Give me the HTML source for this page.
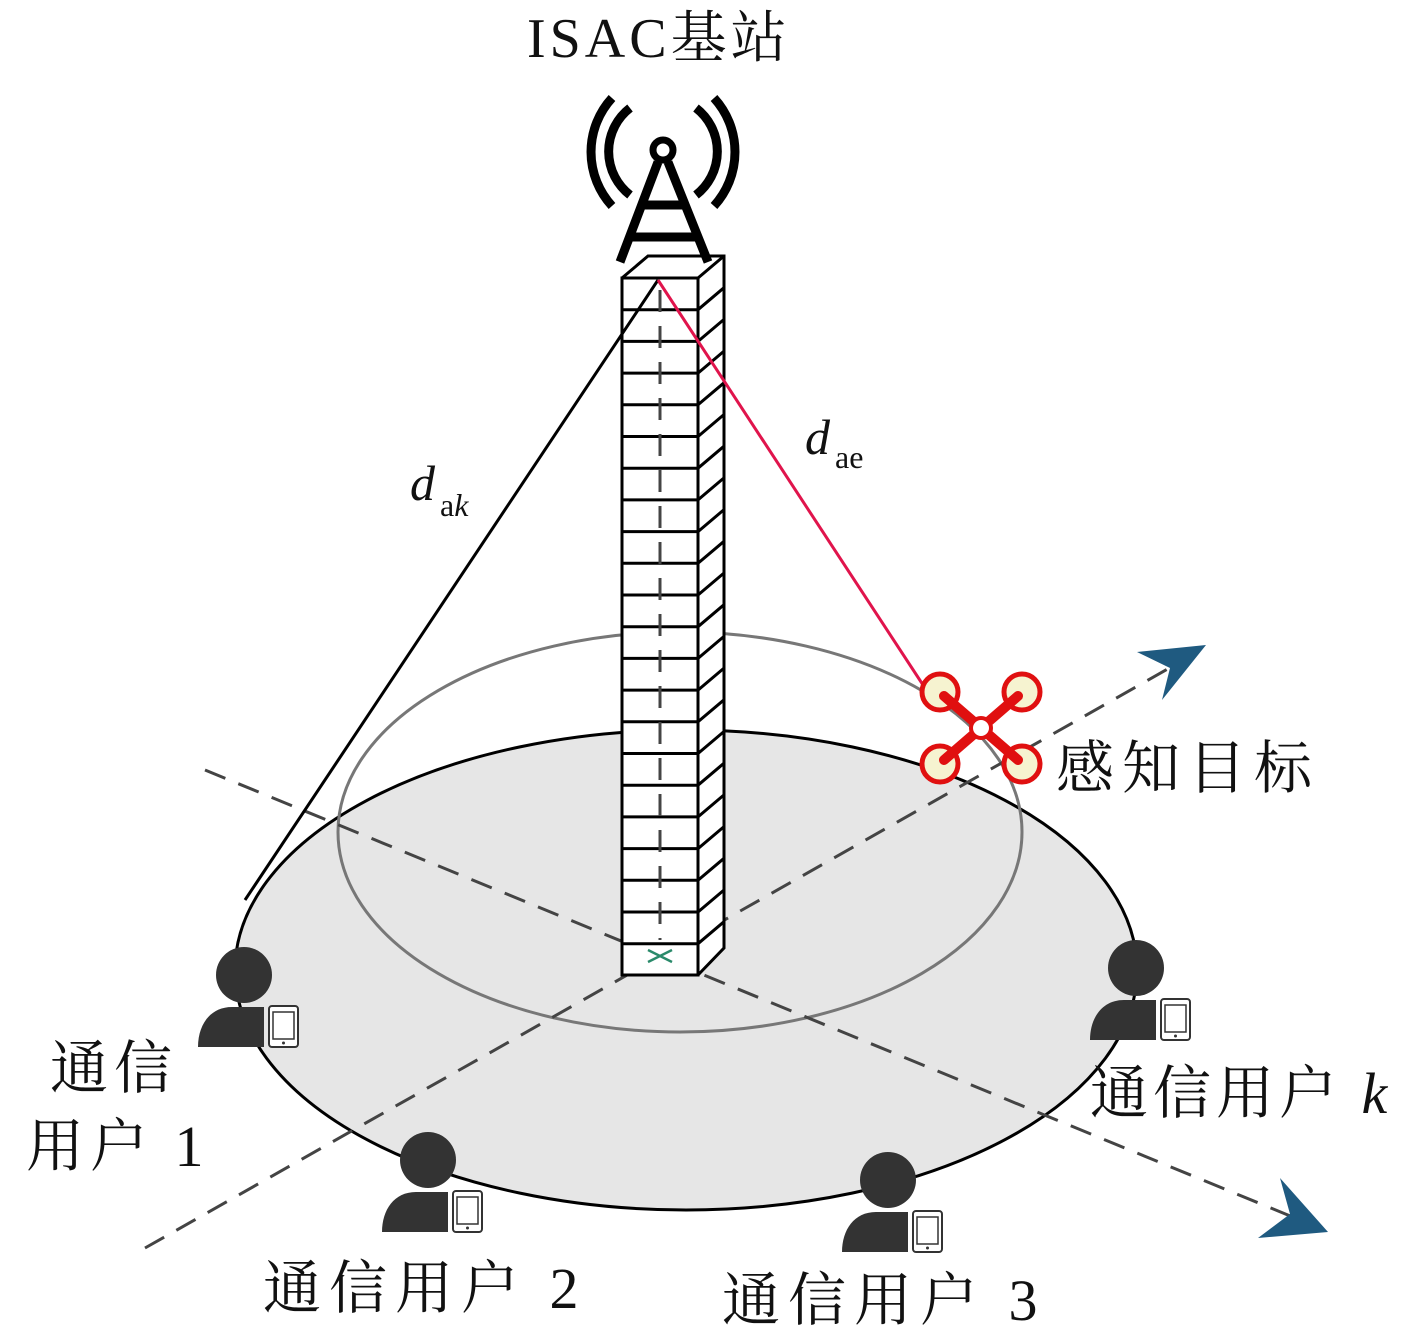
<!DOCTYPE html>
<html><head><meta charset="utf-8"><style>
html,body{margin:0;padding:0;background:#fff;width:1417px;height:1342px;overflow:hidden}
svg{display:block}
.t{font-family:"Liberation Serif","Noto Serif CJK SC","Noto Sans CJK SC",serif;fill:#111}
</style></head><body>
<svg width="1417" height="1342" viewBox="0 0 1417 1342" xmlns="http://www.w3.org/2000/svg">
<defs>
<g id="user">
<circle cx="0" cy="0" r="28" fill="#333"/>
<path d="M20 32 H-12 C-34 32 -46 50 -46 72 H20 Z" fill="#333"/>
<rect x="25" y="31" width="29" height="41" rx="3" fill="#fff" stroke="#333" stroke-width="2"/>
<rect x="29" y="37" width="21" height="27" fill="none" stroke="#333" stroke-width="1.5"/>
<circle cx="39.5" cy="68" r="1.5" fill="#333"/>
</g>
</defs>
<ellipse cx="686" cy="970" rx="451" ry="240" fill="#e6e6e6" stroke="#000" stroke-width="3"/>
<ellipse cx="680" cy="832" rx="342" ry="200" fill="none" stroke="#777" stroke-width="3"/>
<g stroke="#444" stroke-width="3" stroke-dasharray="22,14" fill="none">
<line x1="205" y1="770" x2="1300" y2="1220"/>
<line x1="145" y1="1248" x2="1180" y2="662"/>
</g>
<path d="M1328 1232 L1280 1178 L1290 1214 L1258 1238 Z" fill="#1f5a80"/>
<path d="M1206 645 L1137 652 L1170 668 L1162 700 Z" fill="#1f5a80"/>
<g stroke="#000" stroke-width="3" fill="none">
<path d="M622 278 L648 256 H724 V948 L698 975 H622 Z" fill="#fff" stroke="none"/>
<rect x="622" y="278" width="76" height="697" fill="#fff"/>
<path d="M622 278 L648 256 H724 V948 L698 975"/>
<path d="M698 278 L724 256"/>
<path d="M622 309.7H698l26-22M622 341.4H698l26-22M622 373.1H698l26-22M622 404.8H698l26-22M622 436.5H698l26-22M622 468.2H698l26-22M622 499.9H698l26-22M622 531.6H698l26-22M622 563.3H698l26-22M622 595H698l26-22M622 626.7H698l26-22M622 658.4H698l26-22M622 690.1H698l26-22M622 721.8H698l26-22M622 753.5H698l26-22M622 785.2H698l26-22M622 816.9H698l26-22M622 848.6H698l26-22M622 880.3H698l26-22M622 912H698l26-22M622 943.7H698l26-22"/>
</g>
<line x1="660" y1="290" x2="660" y2="940" stroke="#444" stroke-width="3" stroke-dasharray="22,14"/>
<path d="M648 950 L672 962 M648 962 L672 950" stroke="#2a8a6a" stroke-width="2.5"/>
<g stroke="#000" stroke-width="9" fill="none" stroke-linecap="butt">
<circle cx="663" cy="150" r="10" stroke-width="7"/>
<path d="M658 162 L620 262 M668 162 L708 262"/>
<path d="M643 205 H683 M630 237 H696"/>
<path d="M630 108 A55 55 0 0 0 630 195"/>
<path d="M696 108 A55 55 0 0 1 696 195"/>
<path d="M612 98 A80 80 0 0 0 612 206"/>
<path d="M714 98 A80 80 0 0 1 714 206"/>
</g>
<line x1="658" y1="280" x2="245" y2="900" stroke="#000" stroke-width="3"/>
<line x1="658" y1="280" x2="925" y2="688" stroke="#e0144c" stroke-width="3"/>
<g stroke="#e01010" fill="none">
<circle cx="940" cy="692" r="18" stroke-width="5" fill="#f6f3d0"/>
<circle cx="1022" cy="692" r="18" stroke-width="5" fill="#f6f3d0"/>
<circle cx="940" cy="764" r="18" stroke-width="5" fill="#f6f3d0"/>
<circle cx="1022" cy="764" r="18" stroke-width="5" fill="#f6f3d0"/>
<path d="M944 696 L1018 760 M1018 696 L944 760" stroke-width="10" stroke-linecap="round"/>
<circle cx="981" cy="728" r="10" stroke-width="4" fill="#fff"/>
</g>
<use href="#user" x="244" y="975"/>
<use href="#user" x="428" y="1160"/>
<use href="#user" x="888" y="1180"/>
<use href="#user" x="1136" y="968"/>
<text class="t" x="527" y="57" font-size="56" letter-spacing="4">ISAC基站</text>
<text class="t" x="410" y="500" font-size="50" font-style="italic">d</text>
<text class="t" x="440" y="516" font-size="32">a<tspan font-style="italic">k</tspan></text>
<text class="t" x="805" y="454" font-size="50" font-style="italic">d</text>
<text class="t" x="835" y="468" font-size="32">ae</text>
<text class="t" x="1056" y="788" font-size="58" letter-spacing="8">感知目标</text>
<text class="t" x="50" y="1088" font-size="58" letter-spacing="6">通信</text>
<text class="t" x="26" y="1166" font-size="58" letter-spacing="6">用户 1</text>
<text class="t" x="263" y="1308" font-size="58" letter-spacing="8">通信用户 2</text>
<text class="t" x="722" y="1320" font-size="58" letter-spacing="8">通信用户 3</text>
<text class="t" x="1090" y="1113" font-size="58" letter-spacing="5">通信用户 <tspan font-style="italic">k</tspan></text>
</svg>
</body></html>
